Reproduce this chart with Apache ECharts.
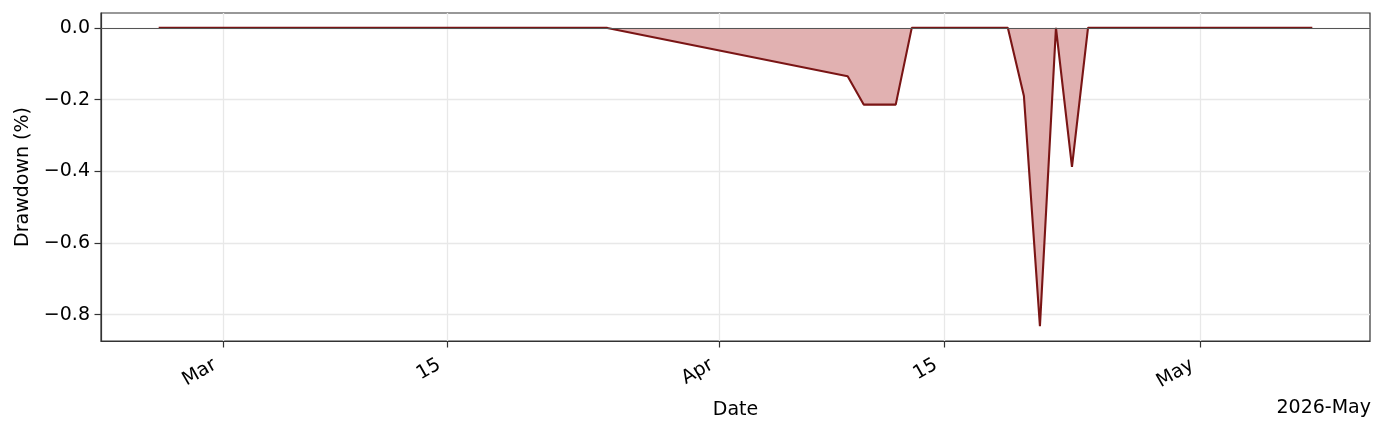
<!DOCTYPE html>
<html>
<head>
<meta charset="utf-8">
<script src="https://cdn.jsdelivr.net/npm/echarts@6/dist/echarts.min.js"></script>
<style>
  html, body { margin: 0; padding: 0; background: #fff; }
  #chart { width: 1385px; height: 433px; }
</style>
</head>
<body>
<div id="chart"></div>
<script>
// drawdown series
var dates = ['2026-02-25', '2026-03-25', '2026-04-09', '2026-04-10', '2026-04-11', '2026-04-12',
             '2026-04-13', '2026-04-19', '2026-04-20', '2026-04-21', '2026-04-22', '2026-04-23',
             '2026-04-24', '2026-05-08'];
var drawdown = [0, 0, -0.135, -0.214, -0.214, -0.214, 0, 0, -0.19, -0.832, 0, -0.388, 0, 0];

var xTickDates = ['2026-03-01', '2026-03-15', '2026-04-01', '2026-04-15', '2026-05-01'];
var xTickLabels = ['Mar', '15', 'Apr', '15', 'May'];
var yTicks = [-0.8, -0.6, -0.4, -0.2, 0.0];

function ts(s) {
    var p = s.split('-');
    return Date.UTC(+p[0], +p[1] - 1, +p[2]);
}

var xs = dates.map(ts);
var points = xs.map(function(x, i) { return [x, drawdown[i]]; });
var xTicks = xTickDates.map(ts);

// matplotlib-like 5% margins
var xSpan = xs[xs.length - 1] - xs[0];
var xMin = xs[0] - 0.05 * xSpan;
var xMax = xs[xs.length - 1] + 0.05 * xSpan;
var yLo = Math.min.apply(null, drawdown), yHi = Math.max.apply(null, drawdown);
var ySpan = yHi - yLo;
var yMin = yLo - 0.05 * ySpan;
var yMax = yHi + 0.05 * ySpan;

var font = 'DejaVu Sans';
var fs = 19;
var gridStyle = { color: '#e8e8e8', width: 1.3, type: 'solid' };

var gridLines = xTicks.map(function(v) { return { xAxis: v }; })
    .concat(yTicks.map(function(v) { return { yAxis: v }; }));

var myChart = echarts.init(document.getElementById('chart'), null, { renderer: 'canvas' });
var option = {
    animation: false,
    grid: {
        left: 101, right: 15, top: 13, bottom: 92, containLabel: false,
        show: true, borderColor: '#333', borderWidth: 1.2, backgroundColor: 'transparent'
    },
    xAxis: {
        type: 'value',
        min: xMin,
        max: xMax,
        splitLine: { show: false },
        axisLine: { show: true, onZero: false, lineStyle: { color: '#333', width: 1.2 } },
        axisTick: { show: true, customValues: xTicks, length: 6.5, lineStyle: { color: '#333', width: 1.2 } },
        axisLabel: {
            customValues: xTicks,
            rotate: 30,
            margin: 18,
            padding: [0, 9, 0, 0],
            fontFamily: font,
            fontSize: fs,
            color: '#000',
            formatter: function(v) {
                var i = xTicks.indexOf(v);
                return i >= 0 ? xTickLabels[i] : '';
            }
        },
        name: 'Date',
        nameLocation: 'middle',
        nameGap: 60,
        nameTextStyle: { fontFamily: font, fontSize: fs, color: '#000' }
    },
    yAxis: {
        type: 'value',
        min: yMin,
        max: yMax,
        splitLine: { show: false },
        axisLine: { show: true, onZero: false, lineStyle: { color: '#333', width: 1.2 } },
        axisTick: { show: true, customValues: yTicks, length: 6.5, lineStyle: { color: '#333', width: 1.2 } },
        axisLabel: {
            customValues: yTicks,
            margin: 11,
            fontFamily: font,
            fontSize: fs,
            color: '#000',
            formatter: function(v) {
                return v.toFixed(1).replace('-', '\u2212');
            }
        },
        name: 'Drawdown (%)',
        nameLocation: 'middle',
        nameRotate: 90,
        nameGap: 68,
        nameTextStyle: { fontFamily: font, fontSize: fs, color: '#000' }
    },
    graphic: [{
        type: 'text',
        right: 14,
        top: 399,
        style: { text: '2026-May', fontFamily: font, fontSize: fs, fill: '#000' }
    }],
    series: [{
        name: 'grid',
        type: 'line',
        data: [],
        z: 0,
        markLine: {
            silent: true,
            z: 0,
            symbol: 'none',
            label: { show: false },
            lineStyle: gridStyle,
            data: gridLines
        }
    }, {
        name: 'Drawdown',
        type: 'line',
        data: points,
        z: 2,
        showSymbol: false,
        symbol: 'none',
        lineStyle: { color: '#7a1515', width: 2.1 },
        itemStyle: { color: '#7a1515' },
        areaStyle: { color: '#e1b1b1', opacity: 1, origin: 0 }
    }, {
        name: 'zero',
        type: 'line',
        data: [],
        z: 3,
        markLine: {
            silent: true,
            z: 5,
            symbol: 'none',
            label: { show: false },
            lineStyle: { color: '#555', width: 1.1, type: 'solid' },
            data: [{ yAxis: 0 }]
        }
    }]
};
myChart.setOption(option, true);
</script>
</body>
</html>
